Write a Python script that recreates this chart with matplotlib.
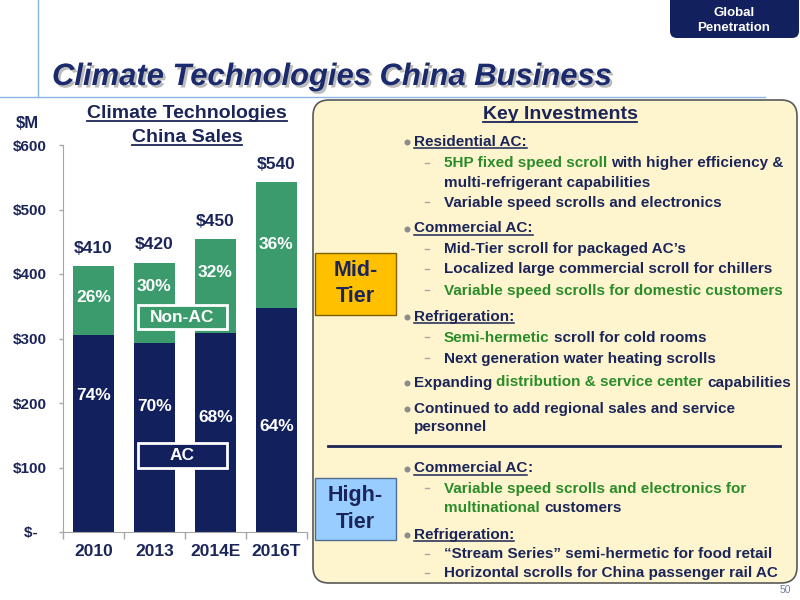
import numpy as np
import matplotlib
matplotlib.use('Agg')
import matplotlib.pyplot as plt
from matplotlib.transforms import Affine2D
from matplotlib.patches import FancyBboxPatch, Rectangle
from matplotlib.lines import Line2D
import matplotlib.patheffects as pe

plt.rcParams['font.family'] = ['Liberation Sans', 'DejaVu Sans']
plt.rcParams['font.weight'] = 'bold'

# ---------------- data ----------------
categories = ['2010', '2013', '2014E', '2016T']
ac_values = [305, 293, 308, 348]
non_ac_values = [107, 124, 146, 194]
total_labels = ['$410', '$420', '$450', '$540']
ac_share_labels = ['74%', '70%', '68%', '64%']
non_ac_share_labels = ['26%', '30%', '32%', '36%']
ytick_values = [0, 100, 200, 300, 400, 500, 600]
ytick_labels = ['$-  ', '$100', '$200', '$300', '$400', '$500', '$600']

# layout (data-unit heights where share labels sit)
non_ac_label_y = [363, 381, 402, 446]
ac_label_y = [212, 194, 178, 164]

NAVY = '#12205E'
GREEN = '#3B9B6C'
TXT = '#1B2559'
TGREEN = '#2A8C2A'
GRID = '#A6A6A6'

W, H = 800, 600
fig = plt.figure(figsize=(8, 6), dpi=100)
fig.patch.set_facecolor('white')
PX = Affine2D().scale(1 / W, -1 / H).translate(0, 1) + fig.transFigure
renderer = fig.canvas.get_renderer()


def width_px(s, size, style='normal'):
    t1 = fig.text(0, 0, s + '|', fontsize=size, fontstyle=style)
    t2 = fig.text(0, 0, '|', fontsize=size, fontstyle=style)
    w = t1.get_window_extent(renderer).width - t2.get_window_extent(renderer).width
    t1.remove()
    t2.remove()
    return w


def underline(x0, x1, y, color, lw=1.1):
    fig.add_artist(Line2D([x0, x1], [y, y], transform=PX, color=color, lw=lw))


# ---------------- frame lines ----------------
fig.add_artist(Line2D([38, 38], [0, 97], transform=PX, color='#8DB4E2', lw=1))
fig.add_artist(Line2D([0, 765], [97, 97], transform=PX, color='#8DB4E2', lw=1))

# global penetration tab
fig.add_artist(FancyBboxPatch((670, -8), 129, 46, boxstyle='round,pad=0,rounding_size=7',
                              transform=PX, fc=NAVY, ec='none'))
fig.text(734, 13, 'Global', transform=PX, ha='center', va='center', fontsize=9.5, color='white')
fig.text(734, 28, 'Penetration', transform=PX, ha='center', va='center', fontsize=9.5, color='white')

# main title
fig.text(52, 85, 'Climate Technologies China Business', transform=PX, ha='left', va='baseline',
         fontsize=22.3, fontstyle='italic', color='#1A2A6C',
         path_effects=[pe.withSimplePatchShadow(offset=(1.8, -1.8), shadow_rgbFace='#7A7A7A', alpha=0.5)])

# ---------------- bar chart ----------------
ax = fig.add_axes([63 / W, 1 - 532 / H, (307 - 63) / W, (532 - 145) / H])
ax.patch.set_alpha(0)
x = np.arange(len(categories))
ax.bar(x, ac_values, 0.67, color=NAVY, zorder=2)
ax.bar(x, non_ac_values, 0.67, bottom=ac_values, color=GREEN, zorder=2)
ax.set_xlim(-0.5, len(categories) - 0.5)
ax.set_ylim(0, 600)
ax.set_yticks(ytick_values)
ax.set_yticklabels(ytick_labels)
ax.tick_params(axis='y', length=3, width=1, color=GRID, pad=9, labelsize=11, labelcolor=TXT)
ax.set_xticks(np.arange(len(categories) + 1) - 0.5)
ax.set_xticklabels([])
ax.tick_params(axis='x', which='major', length=5, width=1, color=GRID, direction='out')
ax.set_xticks(x, minor=True)
ax.set_xticklabels(categories, minor=True)
ax.tick_params(axis='x', which='minor', length=0, pad=9, labelsize=12.5, labelcolor=TXT)
for s in ['top', 'right']:
    ax.spines[s].set_visible(False)
for s in ['left', 'bottom']:
    ax.spines[s].set_color(GRID)

for i in x:
    top = ac_values[i] + non_ac_values[i]
    ax.annotate(total_labels[i], (i, top), xytext=(0, 13), textcoords='offset points',
                ha='center', va='center', fontsize=12.5, color=TXT)
    ax.text(i, non_ac_label_y[i], non_ac_share_labels[i], ha='center', va='center',
            fontsize=12.5, color='white', zorder=3)
    ax.text(i, ac_label_y[i], ac_share_labels[i], ha='center', va='center',
            fontsize=12.5, color='white', zorder=3)

# legend boxes
fig.add_artist(Rectangle((138, 305), 89, 24, transform=PX, fc=GREEN, ec='white', lw=2, zorder=3))
fig.text(182.5, 317, 'Non-AC', transform=PX, ha='center', va='center', fontsize=12.5, color='white', zorder=4)
fig.add_artist(Rectangle((138, 443), 89, 25, transform=PX, fc=NAVY, ec='white', lw=2, zorder=3))
fig.text(182.5, 455.5, 'AC', transform=PX, ha='center', va='center', fontsize=12.5, color='white', zorder=4)

# chart title
for txt, base in [('Climate Technologies', 118), ('China Sales', 142)]:
    fig.text(187, base, txt, transform=PX, ha='center', va='baseline', fontsize=14, color=TXT)
    w = width_px(txt, 14)
    underline(187 - w / 2, 187 + w / 2, base + 3, TXT, 1.3)

fig.text(27, 123, '$M', transform=PX, ha='center', va='center', fontsize=12, color=TXT)

# ---------------- key investments panel ----------------
fig.add_artist(FancyBboxPatch((313, 100), 484, 483, boxstyle='round,pad=0,rounding_size=16',
                              transform=PX, fc='#FEF5CE', ec='#595959', lw=1.2, zorder=0.5))
fig.text(560, 119, 'Key Investments', transform=PX, ha='center', va='baseline', fontsize=14, color=TXT)
w = width_px('Key Investments', 14)
underline(560 - w / 2, 560 + w / 2, 122, TXT, 1.3)

# tier boxes
fig.add_artist(Rectangle((315, 253), 81, 62, transform=PX, fc='#FFC000', ec='#7F6000', lw=1))
fig.text(355.5, 271, 'Mid-', transform=PX, ha='center', va='center', fontsize=15.5, color=TXT)
fig.text(355.5, 297, 'Tier', transform=PX, ha='center', va='center', fontsize=15.5, color=TXT)
fig.add_artist(Rectangle((315, 478), 81, 62, transform=PX, fc='#99CCFF', ec='#4F6E8E', lw=1))
fig.text(355.5, 495, 'High-', transform=PX, ha='center', va='center', fontsize=15.5, color=TXT)
fig.text(355.5, 523, 'Tier', transform=PX, ha='center', va='center', fontsize=15.5, color=TXT)

# separator
fig.add_artist(Line2D([328, 780], [446, 446], transform=PX, color=TXT, lw=2))

lines = [
    (140, 'bullet', [('Residential AC:', TXT, True)]),
    (162, 'dash', [('5HP fixed speed scroll', TGREEN, False), (' with higher efficiency &', TXT, False)]),
    (181, 'cont2', [('multi-refrigerant capabilities', TXT, False)]),
    (201, 'dash', [('Variable speed scrolls and electronics', TXT, False)]),
    (227, 'bullet', [('Commercial AC:', TXT, True)]),
    (248, 'dash', [('Mid-Tier scroll for packaged AC\u2019s', TXT, False)]),
    (268, 'dash', [('Localized large commercial scroll for chillers', TXT, False)]),
    (289, 'dash', [('Variable speed scrolls for domestic customers', TGREEN, False)]),
    (315, 'bullet', [('Refrigeration:', TXT, True)]),
    (336, 'dash', [('Semi-hermetic', TGREEN, False), (' scroll for cold rooms', TXT, False)]),
    (357, 'dash', [('Next generation water heating scrolls', TXT, False)]),
    (381, 'bullet', [('Expanding ', TXT, False), ('distribution & service center', TGREEN, False),
                     (' capabilities', TXT, False)]),
    (407, 'bullet', [('Continued to add regional sales and service', TXT, False)]),
    (426, 'cont1', [('personnel', TXT, False)]),
    (467, 'bullet', [('Commercial AC', TXT, True), (':', TXT, False)]),
    (487, 'dash', [('Variable speed scrolls and electronics for', TGREEN, False)]),
    (506, 'cont2', [('multinational', TGREEN, False), (' customers', TXT, False)]),
    (533, 'bullet', [('Refrigeration:', TXT, True)]),
    (553, 'dash', [('\u201cStream Series\u201d semi-hermetic for food retail', TXT, False)]),
    (572, 'dash', [('Horizontal scrolls for China passenger rail AC', TXT, False)]),
]

SIZE = 11
for yc, kind, segs in lines:
    base = yc + 5.5
    x0 = 414 if kind in ('bullet', 'cont1') else 444
    if kind == 'bullet':
        fig.add_artist(Line2D([407], [yc + 1.5], transform=PX, marker='o', markersize=3.3,
                              color='#8C8C8C', lw=0))
    elif kind == 'dash':
        fig.add_artist(Line2D([424.5, 428.5], [yc + 1, yc + 1], transform=PX, color='#A8A8A8', lw=1))
    prefix = ''
    for txt, col, ul in segs:
        body = txt.lstrip()
        lead = txt[:len(txt) - len(body)]
        prefix += lead
        xs = x0 + (width_px(prefix, SIZE) if prefix else 0)
        fig.text(xs, base, body, transform=PX, ha='left', va='baseline', fontsize=SIZE, color=col)
        if ul:
            underline(xs, xs + width_px(body.rstrip(), SIZE), base + 2.5, col)
        prefix += body

fig.text(785, 590, '50', transform=PX, ha='center', va='center', fontsize=7.5,
         color='#6F7F9F', fontweight='normal')

fig.savefig('out.png', dpi=100)
